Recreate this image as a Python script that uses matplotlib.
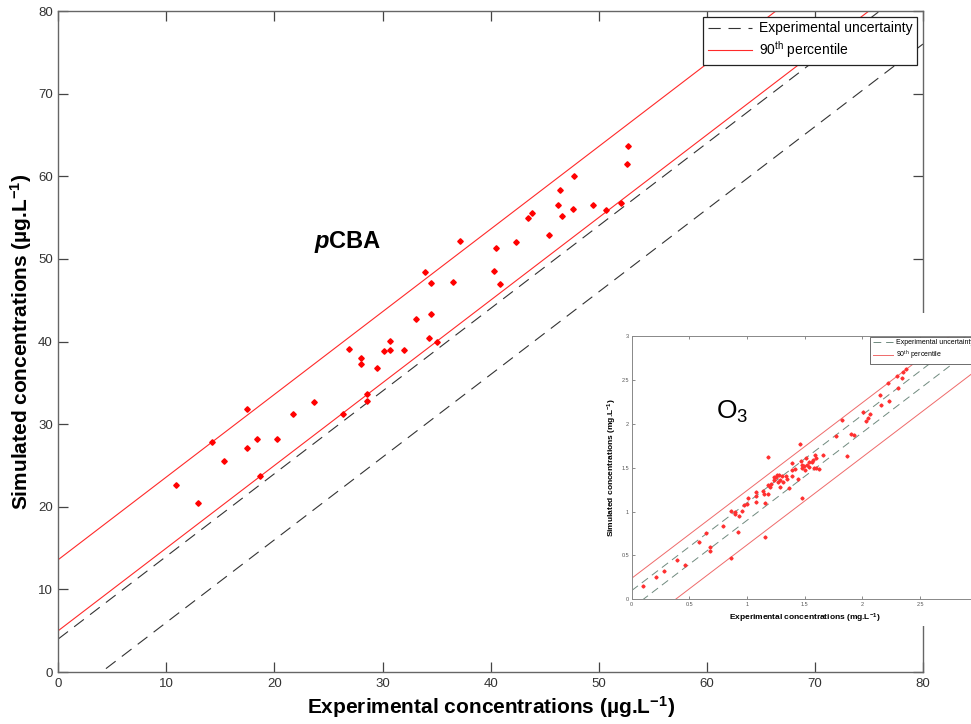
import numpy as np
import matplotlib
matplotlib.use("Agg")
import matplotlib.pyplot as plt
from matplotlib.patches import Rectangle

plt.rcParams['font.family'] = ['Liberation Sans', 'DejaVu Sans']
plt.rcParams['mathtext.fontset'] = 'custom'
plt.rcParams['mathtext.rm'] = 'Liberation Sans'
plt.rcParams['mathtext.it'] = 'Liberation Sans:italic'
plt.rcParams['mathtext.bf'] = 'Liberation Sans:bold'

# pCBA: experimental vs simulated (ug/L)
pcba_exp = [10.86, 12.95, 14.19, 15.30, 17.46, 17.46, 18.38, 18.69, 20.23, 21.68,
            23.63, 26.36, 26.92, 28.00, 28.00, 28.56, 28.56, 29.45, 30.16, 30.66,
            30.66, 31.95, 33.06, 33.95, 34.26, 34.45, 34.45, 35.00, 36.51, 37.13,
            40.33, 40.49, 40.89, 42.37, 43.45, 43.79, 45.42, 46.25, 46.38, 46.57,
            47.61, 47.73, 49.46, 50.66, 52.03, 52.61, 52.73]
pcba_sim = [22.64, 20.42, 27.85, 25.54, 31.80, 27.12, 28.24, 23.73, 28.24, 31.27,
            32.72, 31.27, 39.10, 38.05, 37.29, 33.69, 32.81, 36.80, 38.90, 40.04,
            38.98, 38.98, 42.70, 48.43, 40.40, 43.34, 47.06, 39.92, 47.25, 52.22,
            48.51, 51.37, 46.94, 52.02, 55.00, 55.61, 52.87, 56.58, 58.35, 55.21,
            56.02, 60.05, 56.58, 55.93, 56.78, 61.46, 63.68]
pcba_unc = 4.0                # experimental uncertainty, +/- ug/L
pcba_p90 = [5.0, 13.6]        # offsets of the 90th percentile band

# O3: experimental vs simulated (mg/L)
o3_exp = [0.10, 0.21, 0.28, 0.39, 0.46, 0.68, 0.68, 0.58, 0.64, 0.79,
          0.86, 0.90, 0.86, 0.90, 0.93, 0.96, 0.97, 1.00, 1.01, 0.92,
          1.08, 1.08, 1.08, 1.14, 1.15, 1.16, 1.16, 1.18, 1.18, 1.18,
          1.20, 1.21, 1.23, 1.23, 1.25, 1.26, 1.27, 1.28, 1.29, 1.29,
          1.30, 1.31, 1.34, 1.35, 1.36, 1.39, 1.39, 1.39, 1.42, 1.44,
          1.47, 1.48, 1.48, 1.46, 1.49, 1.50, 1.51, 1.52, 1.54, 1.54,
          1.56, 1.57, 1.58, 1.48, 1.59, 1.60, 1.62, 1.66, 1.60, 1.77,
          1.82, 1.87, 1.90, 1.93, 2.01, 2.03, 2.05, 2.07, 2.15, 2.16,
          2.23, 2.22, 2.30, 2.31, 2.34, 2.35, 2.38]
o3_sim = [0.15, 0.26, 0.32, 0.45, 0.39, 0.55, 0.60, 0.65, 0.75, 0.83,
          0.47, 0.99, 1.01, 0.97, 0.95, 1.01, 1.07, 1.09, 1.15, 0.77,
          1.11, 1.22, 1.18, 1.23, 1.20, 1.10, 0.71, 1.20, 1.62, 1.30,
          1.28, 1.31, 1.39, 1.36, 1.39, 1.42, 1.34, 1.42, 1.36, 1.28,
          1.40, 1.34, 1.41, 1.37, 1.27, 1.47, 1.55, 1.41, 1.48, 1.37,
          1.58, 1.50, 1.53, 1.77, 1.52, 1.47, 1.61, 1.53, 1.56, 1.51,
          1.57, 1.59, 1.50, 1.16, 1.64, 1.61, 1.49, 1.64, 1.50, 1.86,
          2.04, 1.63, 1.88, 1.87, 2.13, 2.03, 2.07, 2.11, 2.33, 2.21,
          2.26, 2.46, 2.54, 2.41, 2.52, 2.59, 2.62]
o3_unc = 0.10
o3_p90 = [-0.38, 0.24]

fig = plt.figure(figsize=(9.71, 7.24), dpi=100)
ax = fig.add_axes([0.060, 0.0718, 0.8905, 0.913])

xx = np.array([0.0, 80.0])
ax.plot(xx, xx + pcba_unc, color='#333333', lw=0.8, dashes=(11, 7),
        label='Experimental uncertainty')
ax.plot(xx, xx - pcba_unc, color='#333333', lw=0.8, dashes=(11, 7))
ax.plot(xx, xx + pcba_p90[0], color='#ff2a2a', lw=0.8, label=r'90$^{\mathrm{th}}$ percentile')
ax.plot(xx, xx + pcba_p90[1], color='#ff2a2a', lw=0.8)
ax.plot(pcba_exp, pcba_sim, ls='none', marker='D', ms=2.8, color='red', mec='red')

ax.set_xlim(0, 80)
ax.set_ylim(0, 80)
ax.set_xticks(np.arange(0, 81, 10))
ax.set_yticks(np.arange(0, 81, 10))
ax.tick_params(direction='in', length=7, width=0.9, top=True, right=True,
               labelsize=9.5, labelcolor='#333333', color='#444444', pad=4)
for s in ax.spines.values():
    s.set_color('#666666')
    s.set_linewidth(1.0)

ax.set_xlabel(r'Experimental concentrations (µg.L$^{\mathbf{-1}}$)',
              fontsize=15, fontweight='bold', labelpad=3)
ax.set_ylabel(r'Simulated concentrations (µg.L$^{\mathbf{-1}}$)',
              fontsize=15, fontweight='bold', labelpad=3)

leg = ax.legend(loc='upper right', fontsize=10, fancybox=False, framealpha=1,
                edgecolor='#222222', borderaxespad=0.4, handlelength=3.2,
                handletextpad=0.5, borderpad=0.35, labelspacing=0.3)
leg.get_frame().set_linewidth(0.9)

# pCBA label with italic p
tp = ax.text(23.7, 51.3, 'p', fontsize=17, fontweight='bold', style='italic')
ax.annotate('CBA', xy=(1, 0), xycoords=tp, fontsize=17, fontweight='bold',
            va='bottom', ha='left')

# white backdrop for the O3 panel
fig.patches.append(Rectangle((0.628, 0.135), 0.372, 0.433, transform=fig.transFigure,
                             facecolor='white', edgecolor='none', zorder=1))

ins = fig.add_axes([0.6506, 0.1722, 0.3562, 0.3637], zorder=2)
xs = np.array([0.0, 3.0])
ins.plot(xs, xs + o3_unc, color='#6f8a7e', lw=0.7, dashes=(8, 5),
         label='Experimental uncertainty')
ins.plot(xs, xs - o3_unc, color='#6f8a7e', lw=0.7, dashes=(8, 5))
ins.plot(xs, xs + o3_p90[0], color='#ef6a6a', lw=0.7, label=r'90$^{\mathrm{th}}$ percentile')
ins.plot(xs, xs + o3_p90[1], color='#ef6a6a', lw=0.7)
ins.plot(o3_exp, o3_sim, ls='none', marker='D', ms=1.6, color='#ff3030', mec='#ff3030')
ins.set_xlim(0, 3)
ins.set_ylim(0, 3)
ins.set_xticks([0, 0.5, 1, 1.5, 2, 2.5])
ins.set_xticklabels(['0', '0.5', '1', '1.5', '2', '2.5'])
ins.set_yticks([0, 0.5, 1, 1.5, 2, 2.5, 3])
ins.set_yticklabels(['0', '0.5', '1', '1.5', '2', '2.5', '3'])
ins.tick_params(direction='in', length=2.5, width=0.6, top=True, right=True,
                labelsize=4, labelcolor='#555555', color='#777777', pad=2)
for s in ins.spines.values():
    s.set_color('#888888')
    s.set_linewidth(0.7)
ins.set_xlabel(r'Experimental concentrations (mg.L$^{\mathbf{-1}}$)',
               fontsize=6, fontweight='bold', labelpad=3)
ins.set_ylabel(r'Simulated concentrations (mg.L$^{\mathbf{-1}}$)',
               fontsize=6, fontweight='bold', labelpad=2)
ileg = ins.legend(loc='upper right', fontsize=5, fancybox=False, framealpha=1,
                  edgecolor='#555555', borderaxespad=0.2, handlelength=3,
                  handletextpad=0.4, borderpad=0.3, labelspacing=0.25,
                  bbox_to_anchor=(1.0, 1.0))
ileg.get_frame().set_linewidth(0.6)
ins.text(0.87, 2.14, r'O$_3$', fontsize=19, ha='center', va='center')

fig.savefig('out.png', dpi=100)
